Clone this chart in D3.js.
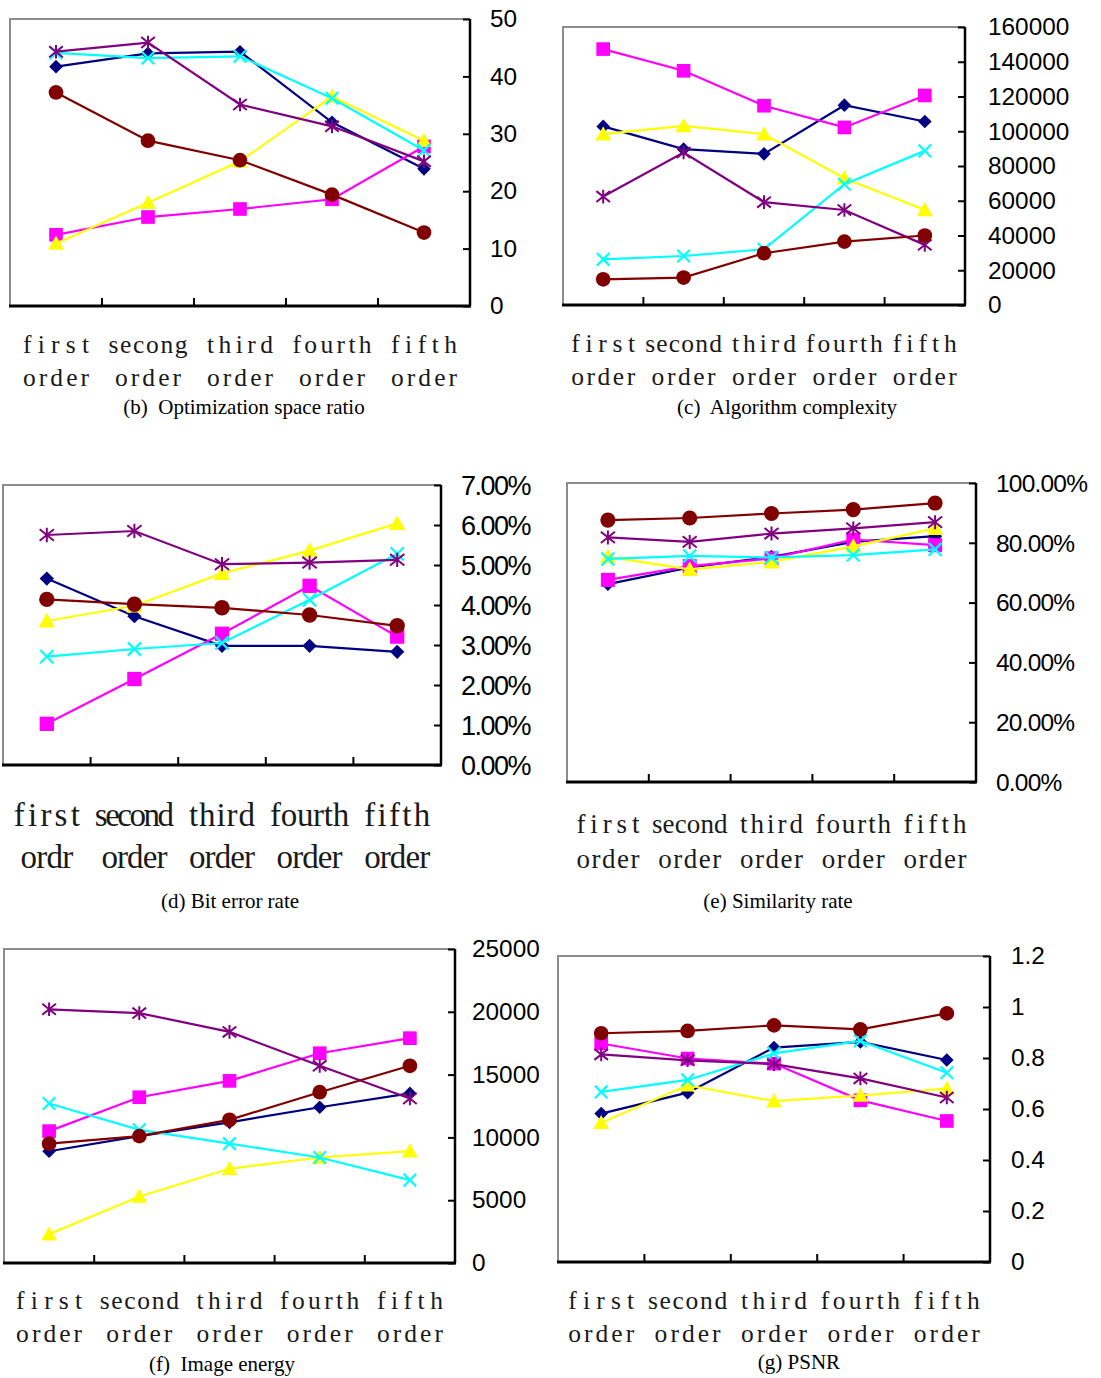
<!DOCTYPE html>
<html>
<head>
<meta charset="utf-8">
<script src="https://cdn.jsdelivr.net/npm/d3@7"></script>
<style>
  html, body { margin: 0; padding: 0; background: #fff; }
  svg { display: block; }
  text { white-space: pre; }
</style>
</head>
<body>
<svg id="chart" width="1101" height="1378"></svg>
<script>
// ---------------- DATA ----------------
// Series order in every panel: navy-diamond, magenta-square, yellow-triangle, cyan-x, purple-star, maroon-circle
const orderLine2 = ["order", "order", "order", "order", "order"];
const catsB = ["first", "secong", "third", "fourth", "fifth"];
const catsStd = ["first", "second", "third", "fourth", "fifth"];
const orderLine2D = ["ordr", "order", "order", "order", "order"];

const optimizationRatio = [
  [41.7, 44.0, 44.3, 32.0, 23.9],
  [12.4, 15.5, 16.9, 18.6, 27.8],
  [10.9, 18.0, 25.2, 36.5, 28.8],
  [44.1, 43.2, 43.5, 36.2, 27.1],
  [44.3, 45.9, 35.1, 31.3, 25.2],
  [37.2, 28.8, 25.4, 19.4, 12.8]
];
const algorithmComplexity = [
  [102800, 89700, 87000, 115000, 105600],
  [147300, 134800, 114700, 102200, 120600],
  [98300, 103100, 98300, 73000, 54700],
  [26300, 28200, 32100, 69500, 88700],
  [62400, 87800, 59200, 54700, 34600],
  [14800, 15800, 29800, 36500, 40000]
];
const bitErrorRate = [
  [0.0466, 0.0372, 0.0298, 0.0298, 0.0283],
  [0.0103, 0.0215, 0.0328, 0.0448, 0.0321],
  [0.0360, 0.0398, 0.0479, 0.0536, 0.0604],
  [0.0271, 0.0290, 0.0305, 0.0413, 0.0528],
  [0.0575, 0.0585, 0.0502, 0.0506, 0.0513],
  [0.0414, 0.0402, 0.0393, 0.0375, 0.0348]
];
const similarityRate = [
  [0.662, 0.718, 0.753, 0.803, 0.822],
  [0.676, 0.722, 0.748, 0.811, 0.792],
  [0.753, 0.711, 0.736, 0.788, 0.848],
  [0.746, 0.756, 0.751, 0.759, 0.778],
  [0.818, 0.803, 0.831, 0.848, 0.869],
  [0.876, 0.883, 0.898, 0.911, 0.933]
];
const imageEnergy = [
  [8900, 10100, 11200, 12400, 13500],
  [10500, 13200, 14500, 16700, 17900],
  [2300, 5300, 7500, 8400, 8900],
  [12700, 10600, 9500, 8400, 6600],
  [20200, 19900, 18400, 15700, 13100],
  [9500, 10100, 11400, 13600, 15700]
];
const psnr = [
  [0.582, 0.664, 0.841, 0.863, 0.792],
  [0.857, 0.798, 0.778, 0.634, 0.553],
  [0.546, 0.693, 0.631, 0.653, 0.680],
  [0.667, 0.714, 0.818, 0.867, 0.742],
  [0.814, 0.791, 0.776, 0.720, 0.645],
  [0.897, 0.906, 0.928, 0.912, 0.975]
];

const ticksB = [0, 10, 20, 30, 40, 50];
const ticksC = [0, 20000, 40000, 60000, 80000, 100000, 120000, 140000, 160000];
const ticksD = [0, 0.01, 0.02, 0.03, 0.04, 0.05, 0.06, 0.07];
const ticksE = [0, 0.2, 0.4, 0.6, 0.8, 1.0];
const ticksF = [0, 5000, 10000, 15000, 20000, 25000];
const ticksG = [0, 0.2, 0.4, 0.6, 0.8, 1.0, 1.2];

const captions = ["(b)  Optimization space ratio", "(c)  Algorithm complexity", "(d) Bit error rate",
                  "(e) Similarity rate", "(f)  Image energy", "(g) PSNR"];

// ---------------- STYLE ----------------
const seriesColors = ["#000080", "#FF00FF", "#FFFF00", "#00FFFF", "#800080", "#800000"];
const seriesShapes = ["diamond", "square", "triangle", "x", "star", "circle"];

const pct = d3.format(".2%");
const serif = "'Liberation Serif', 'Times New Roman', serif";
const panels = [
  { data: optimizationRatio, ticks: ticksB, fmt: d => String(d), max: 50,
    x0: 10, y0: 19, x1: 470, y1: 306, lx: 490, yfont: 23, ysx: 1.06, yls: 0,
    cats1: catsB, cats2: orderLine2, cy1: 353, cy2: 386, csize: 25.5, cell: 13.2,
    cap: captions[0], capX: 244, capY: 414, ms: 1.05 },
  { data: algorithmComplexity, ticks: ticksC, fmt: d => String(d), max: 160000,
    x0: 563, y0: 27, x1: 965, y1: 305, lx: 988, yfont: 23, ysx: 1.06, yls: 0,
    cats1: catsStd, cats2: orderLine2, cy1: 352, cy2: 385, csize: 25.5, cell: 12.8,
    cap: captions[1], capX: 787, capY: 414, ms: 1.05 },
  { data: bitErrorRate, ticks: ticksD, fmt: d => pct(d), max: 0.07,
    x0: 3, y0: 485, x1: 441, y1: 765, lx: 461, yfont: 27, ysx: 1, yls: -1.5,
    cats1: catsStd, cats2: orderLine2D, cy1: 826, cy2: 868, csize: 33, cell: 13.2,
    cap: captions[2], capX: 230, capY: 908, ms: 1.1 },
  { data: similarityRate, ticks: ticksE, fmt: d => pct(d), max: 1.0,
    x0: 567, y0: 483, x1: 976, y1: 782, lx: 996, yfont: 24.5, ysx: 1, yls: -0.8,
    cats1: catsStd, cats2: orderLine2, cy1: 833, cy2: 868, csize: 27, cell: 12.6,
    cap: captions[3], capX: 778, capY: 908, ms: 1.08 },
  { data: imageEnergy, ticks: ticksF, fmt: d => String(d), max: 25000,
    x0: 4, y0: 949, x1: 455, y1: 1263, lx: 472, yfont: 23, ysx: 1.06, yls: 0,
    cats1: catsStd, cats2: orderLine2, cy1: 1309, cy2: 1342, csize: 25.5, cell: 13.2,
    cap: captions[4], capX: 222, capY: 1371, ms: 1.05 },
  { data: psnr, ticks: ticksG, fmt: d => String(+d.toFixed(1)), max: 1.2,
    x0: 558, y0: 956, x1: 990, y1: 1262, lx: 1011, yfont: 23, ysx: 1.06, yls: 0,
    cats1: catsStd, cats2: orderLine2, cy1: 1309, cy2: 1342, csize: 25.5, cell: 13.2,
    cap: captions[5], capX: 799, capY: 1369, ms: 1.05 }
];

const svg = d3.select("#chart");

function drawMarker(g, shape, color, x, y, k) {
  const s = k;
  if (shape === "diamond") {
    const r = 6.5 * s;
    g.append("path").attr("d", `M${x},${y - r}L${x + r},${y}L${x},${y + r}L${x - r},${y}Z`).attr("fill", color);
  } else if (shape === "square") {
    const r = 6.5 * s;
    g.append("rect").attr("x", x - r).attr("y", y - r).attr("width", 2 * r).attr("height", 2 * r).attr("fill", color);
  } else if (shape === "triangle") {
    const r = 7.5 * s;
    g.append("path").attr("d", `M${x},${y - r}L${x + r},${y + r * 0.8}L${x - r},${y + r * 0.8}Z`).attr("fill", color);
  } else if (shape === "x") {
    const r = 6 * s;
    g.append("path").attr("d", `M${x - r},${y - r}L${x + r},${y + r}M${x - r},${y + r}L${x + r},${y - r}`)
      .attr("stroke", color).attr("stroke-width", 2.2).attr("fill", "none");
  } else if (shape === "star") {
    const r = 6.5 * s;
    g.append("path").attr("d", `M${x - r},${y - r * 0.8}L${x + r},${y + r * 0.8}M${x - r},${y + r * 0.8}L${x + r},${y - r * 0.8}M${x},${y - r}L${x},${y + r}`)
      .attr("stroke", color).attr("stroke-width", 2).attr("fill", "none");
  } else if (shape === "circle") {
    g.append("circle").attr("cx", x).attr("cy", y).attr("r", 7 * s).attr("fill", color);
  }
}

panels.forEach(p => {
  const g = svg.append("g");
  const x = d3.scaleBand().domain(d3.range(5)).range([p.x0, p.x1]);
  const y = d3.scaleLinear().domain([0, p.max]).range([p.y1, p.y0]);

  // gray frame (left and top)
  g.append("path").attr("d", `M${p.x0},${p.y1}L${p.x0},${p.y0}L${p.x1},${p.y0}`)
    .attr("fill", "none").attr("stroke", "#8c8c8c").attr("stroke-width", 2);

  // right value axis
  const yAxis = d3.axisLeft(y).tickValues(p.ticks).tickSize(7).tickFormat("");
  const ya = g.append("g").attr("transform", `translate(${p.x1},0)`).call(yAxis);
  ya.select(".domain").attr("stroke", "#000").attr("stroke-width", 2.5).attr("d", `M0,${p.y0}V${p.y1}`);
  ya.selectAll(".tick line").attr("stroke", "#000").attr("stroke-width", 2);

  // bottom category axis with boundary ticks
  const boundaries = d3.range(6).map(i => p.x0 + i * x.step());
  g.append("line").attr("x1", p.x0 - 1).attr("x2", p.x1 + 1).attr("y1", p.y1).attr("y2", p.y1)
    .attr("stroke", "#000").attr("stroke-width", 3);
  g.selectAll(".btick").data(boundaries.slice(1, 5)).enter().append("line")
    .attr("x1", d => d).attr("x2", d => d).attr("y1", p.y1).attr("y2", p.y1 - 8)
    .attr("stroke", "#000").attr("stroke-width", 2);

  // y tick labels
  p.ticks.forEach(t => {
    g.append("text")
      .attr("transform", `translate(${p.lx},${y(t) + p.yfont * 0.36}) scale(${p.ysx},1)`)
      .attr("font-family", "'Liberation Sans', Arial, sans-serif")
      .attr("font-size", p.yfont)
      .attr("letter-spacing", p.yls)
      .attr("fill", "#000")
      .text(p.fmt(t));
  });

  // category labels (serif glyphs on monospace-like cells)
  d3.range(5).forEach(i => {
    const cx = x(i) + x.bandwidth() / 2;
    [[p.cats1[i], p.cy1], [p.cats2[i], p.cy2]].forEach(([txt, yy]) => {
      g.append("text").attr("x", cx).attr("y", yy).attr("text-anchor", "middle")
        .attr("font-family", serif).attr("font-size", p.csize).attr("fill", "#1a1a1a")
        .attr("textLength", txt.length * p.cell).attr("lengthAdjust", "spacing")
        .text(txt);
    });
  });

  // caption
  g.append("text").attr("x", p.capX).attr("y", p.capY).attr("text-anchor", "middle")
    .attr("font-family", serif).attr("font-size", 21)
    .attr("fill", "#000").text(p.cap);

  // series
  const line = d3.line().x((d, i) => x(i) + x.bandwidth() / 2).y(d => y(d));
  p.data.forEach((vals, si) => {
    const sg = g.append("g");
    sg.append("path").attr("d", line(vals)).attr("fill", "none")
      .attr("stroke", seriesColors[si]).attr("stroke-width", 2.2);
    vals.forEach((v, i) => drawMarker(sg, seriesShapes[si], seriesColors[si], x(i) + x.bandwidth() / 2, y(v), p.ms));
  });
});
</script>
</body>
</html>
